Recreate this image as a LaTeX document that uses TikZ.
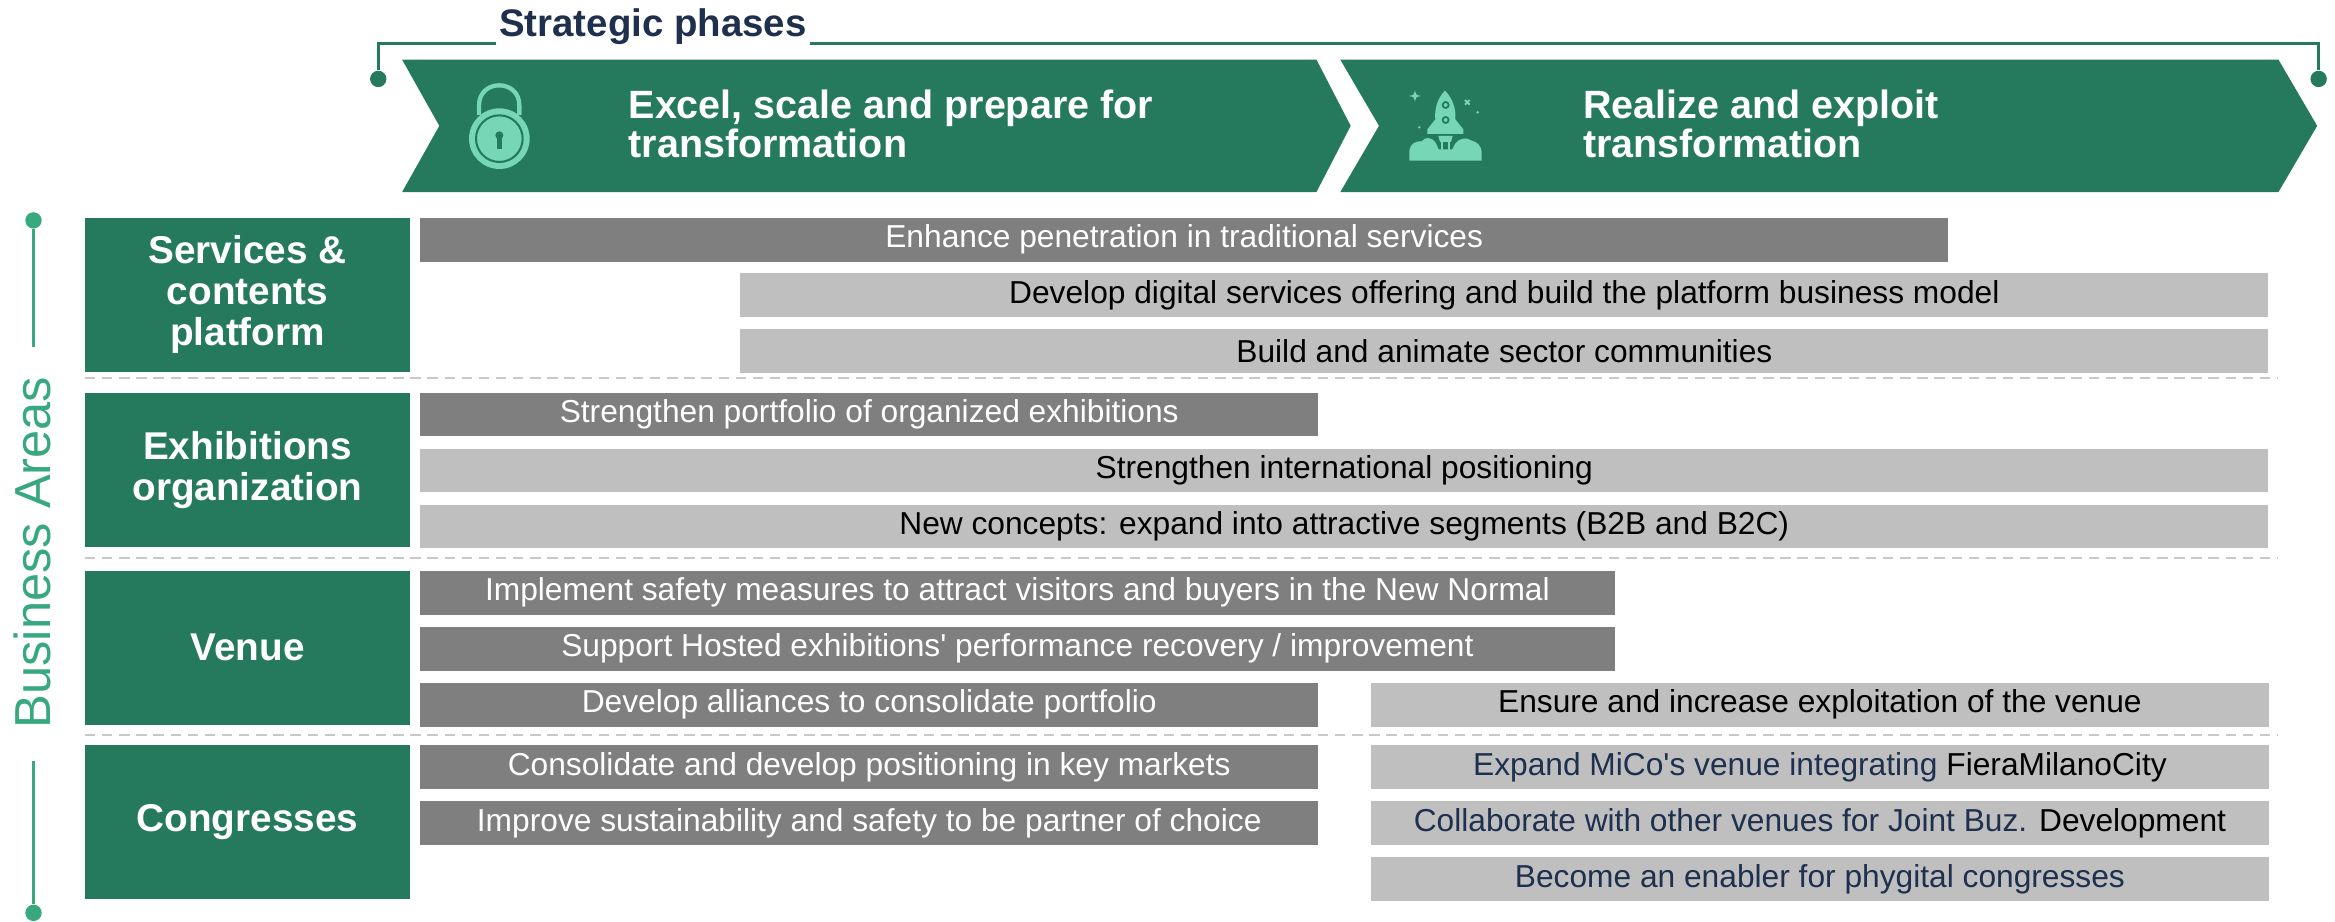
\documentclass[tikz,border=0pt]{standalone}
\usepackage{fontspec}
\setmainfont{Liberation Sans}
\usetikzlibrary{positioning}

\definecolor{areagreen}{HTML}{257A5E}
\definecolor{mint}{HTML}{76D6B6}
\definecolor{axisgreen}{HTML}{38A87F}
\definecolor{barhi}{HTML}{7F7F7F}
\definecolor{barlo}{HTML}{BFBFBF}
\definecolor{navy}{HTML}{1F304F}
\definecolor{sepgray}{HTML}{C8C8C8}

\begin{document}
\begin{tikzpicture}[x=1pt,y=-1pt,
    area/.style={fill=areagreen,text=white,anchor=north west,align=center,
      minimum width=218pt,minimum height=103.6pt,inner sep=0pt,
      font=\fontsize{26}{27.5}\selectfont\bfseries},
    hibar/.style={fill=barhi,text=white,anchor=north west,minimum height=29.5pt,
      inner sep=0pt,font=\fontsize{21.3}{23}\selectfont},
    lobar/.style={hibar,fill=barlo,text=black},
    phase/.style={text=white,anchor=west,align=left,inner sep=0pt,
      font=\fontsize{26.5}{26.5}\selectfont\bfseries},
    pdot/.style={circle,fill=#1,minimum size=11pt,inner sep=0pt},
    sep/.style={sepgray,line width=1.4pt,dash pattern=on 7pt off 4.5pt},
    node distance=7.7pt]
  \useasboundingbox (0,0) rectangle (1568,618.5);

  % strategic phases bracket
  \node[pdot=areagreen] (brl) at (254,53) {};
  \node[pdot=areagreen] (brr) at (1557,53) {};
  \coordinate (brl-up) at (254,29);
  \coordinate (brr-up) at (1557,29);
  \draw[areagreen,line width=1.9pt] (brl) -- (brl-up) -- (brr-up) -- (brr);
  \node[fill=white,text=navy,inner xsep=2pt,inner ysep=1pt,anchor=base west,
    font=\fontsize{25.8}{25.8}\selectfont\bfseries] (strat) at (333,24.6) {Strategic phases};

  % chevrons
  \fill[areagreen] (270,40) -- (884,40) -- (907,84.5) -- (884,129) -- (270,129)
    -- (295,84.5) -- cycle;
  \fill[areagreen] (900,40) -- (1530,40) -- (1556,84.5) -- (1530,129) -- (900,129)
    -- (926,84.5) -- cycle;
  \node[phase] (ph1) at (422,83.3) {Excel, scale and prepare for\\transformation};
  \node[phase] (ph2) at (1063,83.3) {Realize and exploit\\transformation};

  % lock icon
  \begin{scope}[shift={(302.2,47)},scale=0.2238]
    \draw[mint,line width=2.9pt] (87,135) -- (87,106) .. controls (87,26) and (208,26) .. (208,106) -- (208,135);
    \fill[mint] (148,206) circle[radius=91];
    \draw[areagreen,line width=1.4pt] (148,206) circle[radius=70];
    \fill[areagreen] (148,196) circle[radius=12];
    \fill[areagreen] (141,196) rectangle (155,236);
  \end{scope}

  % rocket icon
  \begin{scope}[shift={(933.4,47)},scale=0.2238]
    \fill[mint] (165,62) .. controls (142,85) and (133,118) .. (136,148) -- (112,178)
      -- (112,192) -- (220,192) -- (220,178) -- (196,148) .. controls (199,118) and (188,85) .. (165,62) -- cycle;
    \draw[areagreen,line width=1.2pt] (167,105) circle[radius=9] (167,150) circle[radius=9];
    \fill[mint] (145,198) -- (188,198) -- (183,216) -- (150,216) -- cycle;
    \draw[mint,line width=1.3pt] (156,216) -- (156,240) (177,216) -- (177,240);
    \fill[mint] (58,272) -- (58,242) .. controls (60,222) and (78,212) .. (95,214)
      .. controls (105,200) and (126,200) .. (138,220) -- (146,238) -- (187,238) -- (195,222)
      .. controls (205,205) and (230,200) .. (245,212) .. controls (262,215) and (275,230) .. (275,246)
      -- (275,272) -- cycle;
    \fill[mint] (75,60) .. controls (78,75) .. (93,78) .. controls (78,81) .. (75,96)
      .. controls (72,81) .. (57,78) .. controls (72,75) .. (75,60) -- cycle;
    \draw[mint,line width=1.2pt] (225,90) -- (239,104) (239,90) -- (225,104);
    \fill[mint] (263,127) circle[radius=4] (88,172) circle[radius=4];
  \end{scope}

  % business areas axis
  \node[text=axisgreen,rotate=90,inner sep=0pt,font=\fontsize{34}{34}\selectfont]
    (barea) at (21.5,371) {Business Areas};
  \node[pdot=axisgreen] (batop) at (22.5,148) {};
  \node[pdot=axisgreen] (babot) at (22.5,613) {};
  \coordinate (batop-end) at (22.5,233);
  \coordinate (babot-end) at (22.5,511);
  \draw[axisgreen,line width=1.8pt] (batop) -- (batop-end) (babot-end) -- (babot);

  % area boxes
  \node[area] (svc) at (57,146) {Services \&\\contents\\platform};
  \node[area] (exb) at (57,263.4) {Exhibitions\\organization};
  \node[area] (ven) at (57,383) {Venue};
  \node[area] (cng) at (57,500.2) {Congresses};

  % separators
  \draw[sep] (57,254) -- (1530,254);
  \draw[sep] (57,374.5) -- (1530,374.5);
  \draw[sep] (57,493.5) -- (1530,493.5);

  % services
  \node[hibar,minimum width=1026pt] (sv1) at (282,146) {Enhance penetration in traditional services};
  \node[lobar,minimum width=1026pt] (sv2) at (497,183.2) {Develop digital services offering and build the platform business model};
  \node[lobar,minimum width=1026pt,below=of sv2.south west,anchor=north west] (sv3) {Build and animate sector communities};

  % exhibitions
  \node[hibar,minimum width=603pt] (ex1) at (282,263.4) {Strengthen portfolio of organized exhibitions};
  \node[lobar,minimum width=1241pt,below=of ex1.south west,anchor=north west] (ex2) {Strengthen international positioning};
  \node[lobar,minimum width=1241pt,below=of ex2.south west,anchor=north west] (ex3) {New concepts: expand into attractive segments (B2B and B2C)};

  % venue
  \node[hibar,minimum width=802pt] (ve1) at (282,383) {Implement safety measures to attract visitors and buyers in the New Normal};
  \node[hibar,minimum width=802pt,below=of ve1.south west,anchor=north west] (ve2) {Support Hosted exhibitions\textquotesingle{} performance recovery / improvement};
  \node[hibar,minimum width=603pt,below=of ve2.south west,anchor=north west] (ve3) {Develop alliances to consolidate portfolio};
  \node[lobar,minimum width=603pt,right=35pt of ve3] (ve4) {Ensure and increase exploitation of the venue};

  % congresses
  \node[hibar,minimum width=603pt] (co1) at (282,500.2) {Consolidate and develop positioning in key markets};
  \node[hibar,minimum width=603pt,below=of co1.south west,anchor=north west] (co2) {Improve sustainability and safety to be partner of choice};
  \node[lobar,minimum width=603pt,right=35pt of co1] (co3) {\textcolor{navy}{Expand MiCo\textquotesingle s venue integrating} FieraMilanoCity};
  \node[lobar,minimum width=603pt,right=35pt of co2] (co4) {\textcolor{navy}{Collaborate with other venues for Joint Buz.} Development};
  \node[lobar,minimum width=603pt,below=of co4.south west,anchor=north west,text=navy] (co5) {Become an enabler for phygital congresses};
\end{tikzpicture}
\end{document}
